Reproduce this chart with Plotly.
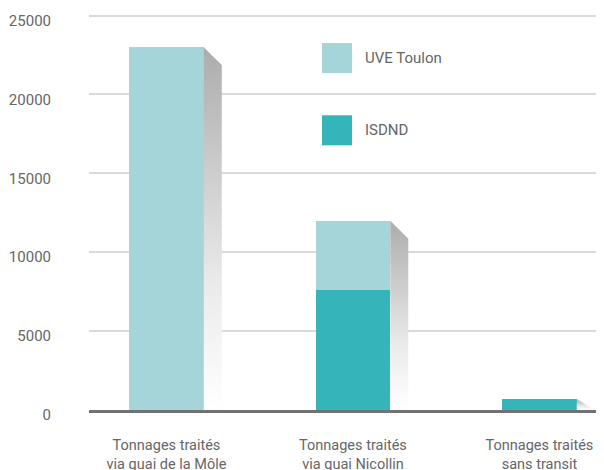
import plotly.graph_objects as go

categories = ["Tonnages traités<br>via quai de la Môle",
              "Tonnages traités<br>via quai Nicollin",
              "Tonnages traités<br>sans transit"]
isdnd = [0, 7600, 700]
uve_toulon = [23000, 4400, 0]
y_ticks = [0, 5000, 10000, 15000, 20000, 25000]

C_UVE = "#a5d5d8"
C_ISDND = "#35b5b9"
TXT = "#666666"
FONT = "Roboto, Liberation Sans, sans-serif"

x = list(range(len(categories)))
BAR_W = 0.4
DX = 0.0965      # shadow depth in category units
DROP = 1140      # shadow vertical offset in data units

fig = go.Figure()

# shadows (drawn first, behind bars)
for i in x:
    total = isdnd[i] + uve_toulon[i]
    xr = i + BAR_W / 2
    xs = [xr, xr + DX, xr + DX, xr, xr]
    ys = [total, max(0, total - DROP), 0, 0, total]
    fig.add_trace(go.Scatter(
        x=xs, y=ys, fill="toself", mode="lines",
        line=dict(width=0, color="rgba(0,0,0,0)"),
        fillgradient=dict(type="vertical",
                          colorscale=[[0, "rgba(255,255,255,1)"],
                                      [0.35, "rgba(234,234,234,1)"],
                                      [1, "rgba(172,172,172,1)"]]),
        hoverinfo="skip", showlegend=False))

fig.add_trace(go.Bar(x=x, y=isdnd, name="ISDND", marker_color=C_ISDND,
                     width=BAR_W, marker_line_width=0, showlegend=False))
fig.add_trace(go.Bar(x=x, y=uve_toulon, name="UVE Toulon", marker_color=C_UVE,
                     width=BAR_W, marker_line_width=0, showlegend=False))

# manual legend
legend_items = [("UVE Toulon", C_UVE, 0.9266, 0.8506),
                ("ISDND", C_ISDND, 0.7443, 0.6684)]
for name, col, y1, y0 in legend_items:
    fig.add_shape(type="rect", xref="paper", yref="paper",
                  x0=0.4524, x1=0.5107, y0=y0, y1=y1,
                  fillcolor=col, line_width=0)
    fig.add_annotation(xref="paper", yref="paper", x=0.532, y=(y0 + y1) / 2,
                       text=name, showarrow=False, xanchor="left", yanchor="middle",
                       font=dict(family=FONT, size=15, color=TXT))

fig.update_layout(
    barmode="stack",
    width=596, height=462,
    margin=dict(l=81, r=0, t=6, b=60),
    paper_bgcolor="white", plot_bgcolor="white",
    font=dict(family=FONT, size=14, color=TXT),
    showlegend=False,
)
fig.update_xaxes(
    tickvals=x, ticktext=categories, range=[-0.4155, 2.346],
    showgrid=False, zeroline=False, automargin=False,
    showline=True, linewidth=3, linecolor="#727272",
    ticks="", ticklabelstandoff=20,
    tickfont=dict(family=FONT, size=14.5, color=TXT),
)
fig.update_yaxes(
    range=[0, 25100], tickvals=y_ticks, ticktext=[str(v) for v in y_ticks],
    showgrid=True, gridcolor="#d9d9d9", gridwidth=1.5,
    zeroline=False, showline=False, ticks="", automargin=False,
    ticklabelstandoff=37, ticklabelshift=5,
    tickfont=dict(family=FONT, size=15, color=TXT),
)

fig.write_html("out.html")
